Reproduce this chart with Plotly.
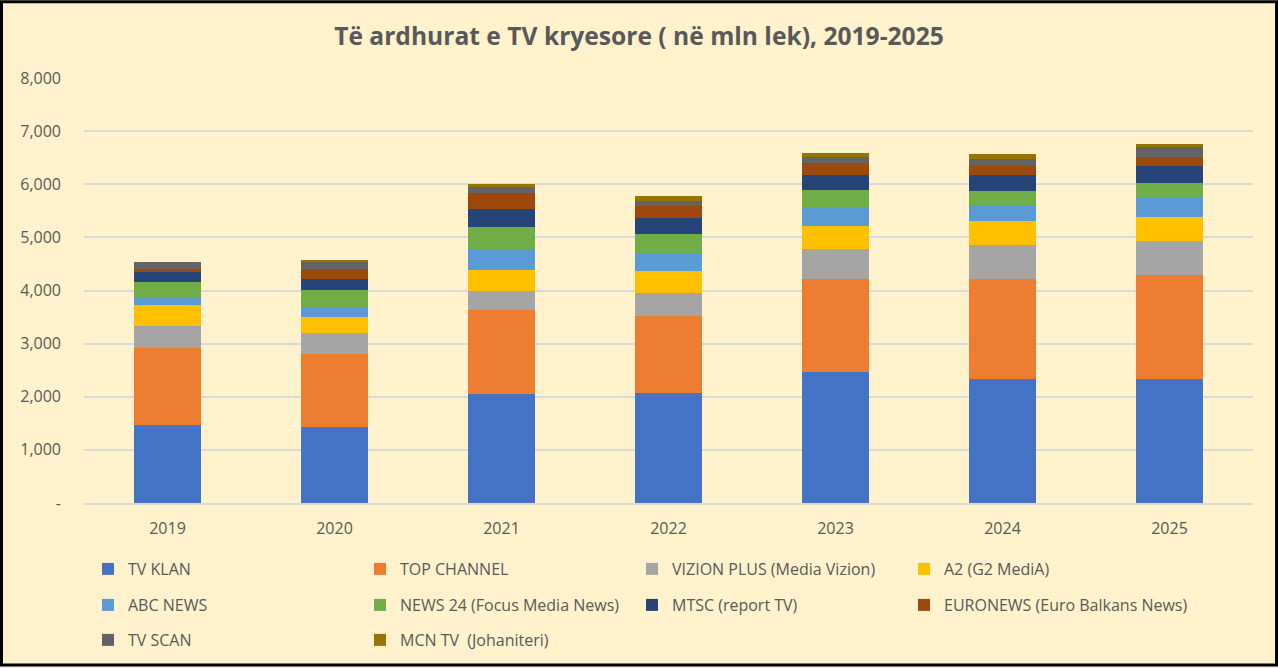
import plotly.graph_objects as go

years = ["2019", "2020", "2021", "2022", "2023", "2024", "2025"]

tv_klan = [1471, 1433, 2047, 2072, 2466, 2335, 2335]
top_channel = [1440, 1365, 1577, 1440, 1759, 1878, 1952]
vizion_plus = [419, 400, 376, 438, 551, 651, 639]
a2 = [394, 301, 382, 413, 445, 451, 451]
abc_news = [126, 163, 407, 351, 344, 287, 375]
news24 = [306, 344, 400, 344, 319, 263, 276]
mtsc = [188, 207, 338, 300, 282, 301, 325]
euronews = [63, 200, 301, 226, 238, 187, 169]
tv_scan = [124, 138, 125, 106, 112, 113, 182]
mcn_tv = [0, 12, 56, 81, 76, 107, 57]

series_names = ["TV KLAN", "TOP CHANNEL", "VIZION PLUS (Media Vizion)", "A2 (G2 MediA)",
                "ABC NEWS", "NEWS 24 (Focus Media News)", "MTSC (report TV)",
                "EURONEWS (Euro Balkans News)", "TV SCAN", "MCN TV  (Johaniteri)"]
series_values = [tv_klan, top_channel, vizion_plus, a2, abc_news, news24, mtsc,
                 euronews, tv_scan, mcn_tv]
colors = ["#4472C4", "#ED7D31", "#A5A5A5", "#FFC000", "#5B9BD5", "#70AD47",
          "#264478", "#9E480E", "#636363", "#997300"]
legend_ids = ["legend", "legend", "legend", "legend",
              "legend2", "legend2", "legend2", "legend4",
              "legend3", "legend3"]

y_ticks = [0, 1000, 2000, 3000, 4000, 5000, 6000, 7000, 8000]
y_tick_labels = ["-", "1,000", "2,000", "3,000", "4,000", "5,000", "6,000", "7,000", "8,000"]

title_text = "Të ardhurat e TV kryesore ( në mln lek), 2019-2025"

FONT = "'Open Sans', Lato, sans-serif"
TXT = "#595959"

fig = go.Figure()
for name, vals, col, lg in zip(series_names, series_values, colors, legend_ids):
    fig.add_trace(go.Bar(x=years, y=vals, name=name, marker=dict(color=col, line=dict(width=0)),
                         legend=lg))

W, H = 1278, 668
L, R, T, B = 84, 25, 78, 164
pw, ph = W - L - R, H - T - B

def px_x(p):
    return (p - L) / pw

def px_y(p):
    return (H - B - p) / ph

legend_common = dict(orientation="h", xanchor="left", yanchor="middle",
                     entrywidth=227, entrywidthmode="pixels",
                     font=dict(family=FONT, size=16, color=TXT),
                     bgcolor="rgba(0,0,0,0)", itemclick=False, traceorder="normal")
legend_free = dict(orientation="h", xanchor="left", yanchor="middle",
                   font=dict(family=FONT, size=16, color=TXT),
                   bgcolor="rgba(0,0,0,0)", itemclick=False, traceorder="normal")

fig.update_layout(
    width=W, height=H,
    margin=dict(l=L, r=R, t=T, b=B),
    paper_bgcolor="#FFF2CC",
    plot_bgcolor="#FFF2CC",
    barmode="stack",
    bargap=0.6,
    title=dict(text="<b>" + title_text + "</b>", x=0.5, xanchor="center",
               y=1 - 36 / H, yanchor="middle",
               font=dict(family=FONT, size=24.6, color=TXT)),
    xaxis=dict(showgrid=False, showline=True, linecolor="#D9D9D9", linewidth=2,
               tickfont=dict(family=FONT, size=16, color=TXT), ticks="",
               ticklabelstandoff=10),
    yaxis=dict(range=[0, 8000], tickvals=y_ticks, ticktext=y_tick_labels,
               showgrid=True, gridcolor="#D9D9D9", gridwidth=2, zeroline=False,
               tickfont=dict(family=FONT, size=16, color=TXT), ticks="",
               ticklabelstandoff=22, showline=False),
    legend=dict(x=px_x(88), y=px_y(569), **legend_common),
    legend2=dict(x=px_x(88), y=px_y(605), **legend_common),
    legend4=dict(x=px_x(88 + 3 * 270 + 6), y=px_y(605), **legend_free),
    legend3=dict(x=px_x(88), y=px_y(640), **legend_common),
    shapes=[dict(type="rect", xref="paper", yref="paper",
                 x0=px_x(1.5), x1=px_x(W - 1.5), y0=px_y(H - 1.5), y1=px_y(1.5),
                 line=dict(color="black", width=3), layer="above")],
)

fig.write_html("out.html", config={"displayModeBar": False},
               post_script="document.body.style.margin='0';document.body.style.overflow='hidden';")
